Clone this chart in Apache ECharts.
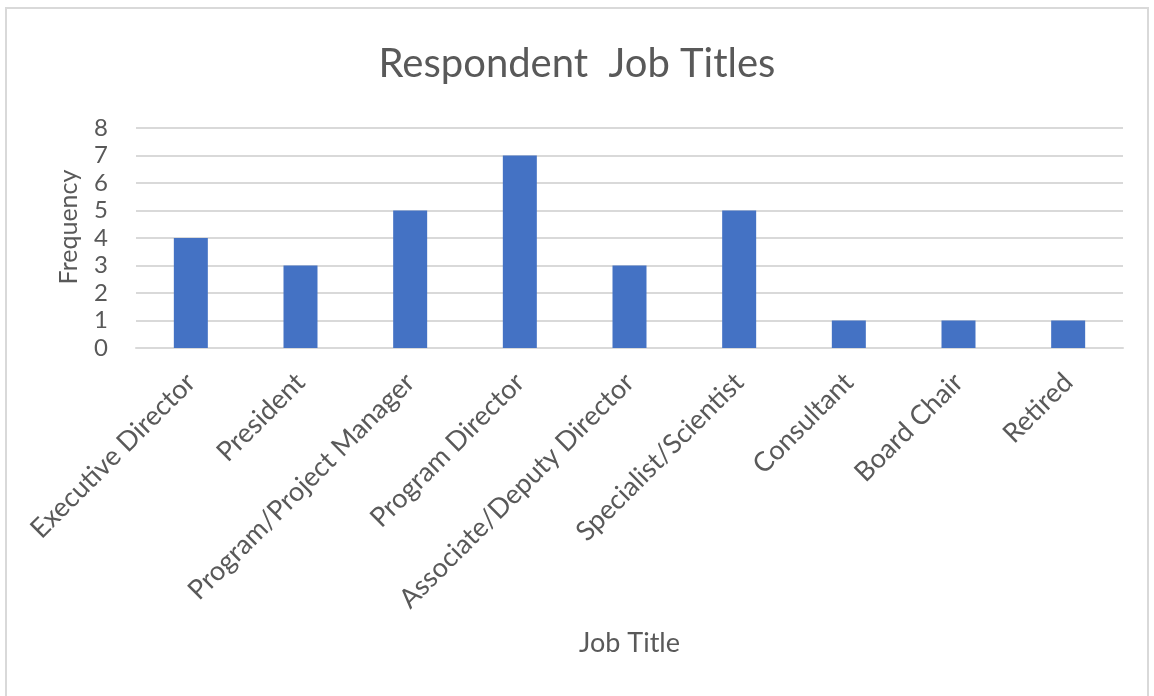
<!DOCTYPE html>
<html>
<head>
<meta charset="utf-8">
<script src="https://cdn.jsdelivr.net/npm/echarts@6/dist/echarts.min.js"></script>
<style>
  html, body { margin: 0; padding: 0; background: #ffffff; }
  #chart { width: 1154px; height: 696px; }
</style>
</head>
<body>
<div id="chart"></div>
<script>
// Job titles reported by respondents and how often each appeared
const jobTitles = [
  'Executive Director', 'President', 'Program/Project Manager', 'Program Director',
  'Associate/Deputy Director', 'Specialist/Scientist', 'Consultant', 'Board Chair', 'Retired'
];
const frequency = [4, 3, 5, 7, 3, 5, 1, 1, 1];
const yTicks = { min: 0, max: 8, interval: 1 };

const textColor = '#595959';
const gridColor = '#d9d9d9';
const font = 'Lato, "Open Sans", sans-serif';

const chart = echarts.init(document.getElementById('chart'), null, { renderer: 'canvas' });
chart.setOption({
  backgroundColor: '#ffffff',
  animation: false,
  graphic: [{
    type: 'rect',
    shape: { x: 6, y: 8, width: 1142, height: 700 },
    style: { fill: 'none', stroke: '#d9d9d9', lineWidth: 2 },
    silent: true
  }],
  title: {
    text: 'Respondent  Job Titles',
    left: 'center',
    top: 39,
    textStyle: { color: textColor, fontFamily: font, fontSize: 40, fontWeight: 'normal' }
  },
  grid: { left: 136, right: 31, top: 128, bottom: 348 },
  xAxis: {
    type: 'category',
    data: jobTitles,
    name: 'Job Title',
    nameLocation: 'middle',
    nameGap: 282,
    nameTextStyle: { color: textColor, fontFamily: font, fontSize: 27 },
    axisLine: { lineStyle: { color: gridColor, width: 2 } },
    axisTick: { show: false },
    axisLabel: {
      rotate: 45,
      interval: 0,
      margin: 30,
      color: textColor,
      fontFamily: font,
      fontSize: 27
    }
  },
  yAxis: {
    type: 'value',
    min: yTicks.min,
    max: yTicks.max,
    interval: yTicks.interval,
    name: 'Frequency',
    nameLocation: 'middle',
    nameGap: 55,
    nameTextStyle: { color: textColor, fontFamily: font, fontSize: 25, padding: [0, 0, 0, 22] },
    axisLine: { show: false },
    axisTick: { show: false },
    axisLabel: { color: textColor, fontFamily: font, fontSize: 24, margin: 28 },
    splitLine: { lineStyle: { color: gridColor, width: 2 } }
  },
  series: [{
    type: 'bar',
    data: frequency,
    barWidth: '31%',
    itemStyle: { color: '#4472c4' }
  }]
});
</script>
</body>
</html>
